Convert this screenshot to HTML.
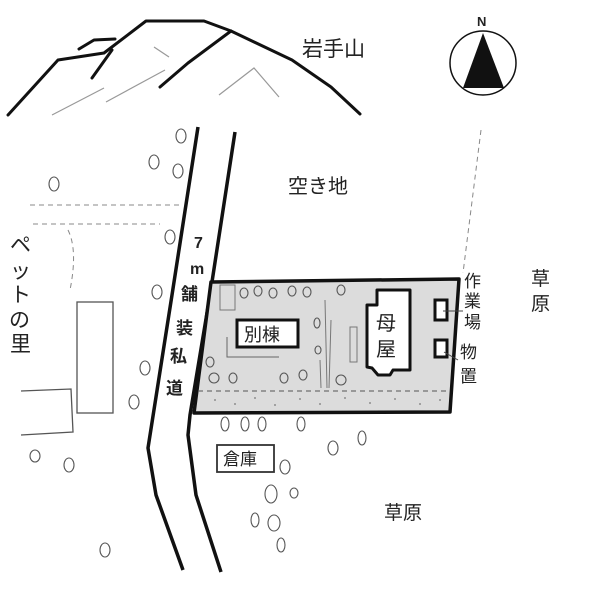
<!DOCTYPE html>
<html><head><meta charset="utf-8"><style>
html,body{margin:0;padding:0;background:#fff}
svg{display:block}
text{font-family:"Liberation Sans","Noto Sans CJK JP",sans-serif;fill:#222}
</style></head><body>
<svg width="600" height="595" viewBox="0 0 600 595" xmlns="http://www.w3.org/2000/svg">
<g fill="none" stroke="#111" stroke-width="3" stroke-linecap="round" stroke-linejoin="round">
<polyline points="8,115 58,60 104,53 146,21 204,21 231,31 292,60 331,87 360,114"/>
<polyline points="92,78 112,50"/>
<polyline points="79,49 94,40 115,39"/>
<polyline points="160,87 188,63 231,31"/>
</g>
<g fill="none" stroke="#999" stroke-width="1.2">
<polyline points="219,95 254,68 279,97"/>
<polyline points="52,115 104,88"/>
<polyline points="106,102 165,70"/>
<polyline points="154,47 169,57"/>
</g>
<text x="302" y="56" font-size="21">岩手山</text>
<ellipse cx="483" cy="63" rx="33" ry="32" fill="#fff" stroke="#111" stroke-width="1.5"/>
<polygon points="483,33 463,88 504,88" fill="#111"/>
<text x="477" y="26" font-size="13" font-weight="bold">N</text>
<g fill="none" stroke="#888" stroke-width="1" stroke-dasharray="5,4">
<line x1="30" y1="205" x2="183" y2="205"/>
<line x1="33" y1="224" x2="160" y2="224"/>
<path d="M68,230 Q78,250 70,290"/>
<line x1="481" y1="130" x2="463" y2="273"/>
</g>
<g fill="none" stroke="#111" stroke-width="3.5" stroke-linejoin="round">
<polyline points="198,127 172,295 148,448 156,495 183,570"/>
<polyline points="235,132 210,295 190,415 188,435 196,495 221,572"/>
</g>
<g font-size="16" font-weight="bold">
<text x="194" y="248">7</text>
<text x="190" y="274">m</text>
</g>
<g font-size="17" font-weight="bold">
<text x="181" y="300">舗</text>
<text x="176" y="334">装</text>
<text x="170" y="362">私</text>
<text x="166" y="394">道</text>
</g>
<polygon points="211,282 459,279 450,412 194,413" fill="#dcdcdc" stroke="#111" stroke-width="3.5" stroke-linejoin="round"/>
<line x1="198" y1="391" x2="449" y2="391" stroke="#555" stroke-width="1" stroke-dasharray="5,4"/>
<g fill="#777">
<circle cx="215" cy="400" r="0.9"/><circle cx="235" cy="404" r="0.9"/><circle cx="255" cy="398" r="0.9"/><circle cx="275" cy="405" r="0.9"/><circle cx="300" cy="399" r="0.9"/><circle cx="320" cy="404" r="0.9"/><circle cx="345" cy="398" r="0.9"/><circle cx="370" cy="403" r="0.9"/><circle cx="395" cy="399" r="0.9"/><circle cx="420" cy="404" r="0.9"/><circle cx="440" cy="400" r="0.9"/>
</g>
<rect x="220" y="285" width="15" height="25" fill="none" stroke="#777" stroke-width="1"/>
<polyline points="227,337 227,357 279,357" fill="none" stroke="#666" stroke-width="1"/>
<rect x="237" y="320" width="61" height="27" fill="#fff" stroke="#111" stroke-width="3"/>
<text x="244" y="341" font-size="18">別棟</text>
<rect x="350" y="327" width="7" height="35" fill="none" stroke="#777" stroke-width="1"/>
<polygon points="377,290 410,290 410,370 393,370 390,375 378,375 372,368 367,367 367,305 377,305" fill="#fff" stroke="#111" stroke-width="3" stroke-linejoin="round"/>
<text x="376" y="330" font-size="20">母</text>
<text x="376" y="356" font-size="20">屋</text>
<rect x="435" y="300" width="12" height="20" fill="#fff" stroke="#111" stroke-width="3"/>
<rect x="435" y="340" width="12" height="17" fill="#fff" stroke="#111" stroke-width="3"/>
<line x1="443" y1="311" x2="463" y2="311" stroke="#444" stroke-width="1"/>
<line x1="444" y1="352" x2="458" y2="360" stroke="#444" stroke-width="1"/>
<g font-size="17">
<text x="464" y="287">作</text><text x="464" y="307">業</text><text x="464" y="328">場</text>
<text x="460" y="358">物</text><text x="460" y="382">置</text>
</g>
<g fill="none" stroke="#555" stroke-width="1.1">
<ellipse cx="244" cy="293" rx="4" ry="5"/><ellipse cx="258" cy="291" rx="4" ry="5"/><ellipse cx="273" cy="293" rx="4" ry="5"/><ellipse cx="292" cy="291" rx="4" ry="5"/><ellipse cx="307" cy="292" rx="4" ry="5"/><ellipse cx="341" cy="290" rx="4" ry="5"/>
<ellipse cx="210" cy="362" rx="4" ry="5"/><ellipse cx="214" cy="378" rx="5" ry="5"/><ellipse cx="233" cy="378" rx="4" ry="5"/><ellipse cx="284" cy="378" rx="4" ry="5"/><ellipse cx="303" cy="375" rx="4" ry="5"/><ellipse cx="317" cy="323" rx="3" ry="5"/><ellipse cx="318" cy="350" rx="3" ry="4"/><ellipse cx="341" cy="380" rx="5" ry="5"/>
</g>
<g stroke="#777" stroke-width="1">
<line x1="325" y1="300" x2="327" y2="388"/><line x1="331" y1="320" x2="329" y2="388"/><line x1="320" y1="360" x2="321" y2="388"/>
</g>
<rect x="217" y="445" width="57" height="27" fill="#fff" stroke="#333" stroke-width="1.8"/>
<text x="223" y="465" font-size="17">倉庫</text>
<rect x="77" y="302" width="36" height="111" fill="#fff" stroke="#555" stroke-width="1.3"/>
<polyline points="21,391 71,389 73,432 21,435" fill="none" stroke="#555" stroke-width="1.3"/>
<g font-size="21">
<text x="10" y="252">ペ</text><text x="10" y="278">ッ</text><text x="10" y="302">ト</text><text x="9" y="327">の</text><text x="10" y="351">里</text>
</g>
<text x="288" y="193" font-size="20">空き地</text>
<g font-size="19">
<text x="531" y="285">草</text><text x="531" y="310">原</text>
<text x="384" y="519">草原</text>
</g>
<g fill="none" stroke="#555" stroke-width="1.1">
<ellipse cx="181" cy="136" rx="5" ry="7"/><ellipse cx="154" cy="162" rx="5" ry="7"/><ellipse cx="178" cy="171" rx="5" ry="7"/><ellipse cx="54" cy="184" rx="5" ry="7"/>
<ellipse cx="170" cy="237" rx="5" ry="7"/><ellipse cx="157" cy="292" rx="5" ry="7"/><ellipse cx="145" cy="368" rx="5" ry="7"/><ellipse cx="134" cy="402" rx="5" ry="7"/>
<ellipse cx="35" cy="456" rx="5" ry="6"/><ellipse cx="69" cy="465" rx="5" ry="7"/><ellipse cx="105" cy="550" rx="5" ry="7"/>
<ellipse cx="225" cy="424" rx="4" ry="7"/><ellipse cx="245" cy="424" rx="4" ry="7"/><ellipse cx="262" cy="424" rx="4" ry="7"/><ellipse cx="301" cy="424" rx="4" ry="7"/>
<ellipse cx="333" cy="448" rx="5" ry="7"/><ellipse cx="362" cy="438" rx="4" ry="7"/>
<ellipse cx="285" cy="467" rx="5" ry="7"/><ellipse cx="271" cy="494" rx="6" ry="9"/><ellipse cx="294" cy="493" rx="4" ry="5"/><ellipse cx="255" cy="520" rx="4" ry="7"/><ellipse cx="274" cy="523" rx="6" ry="8"/><ellipse cx="281" cy="545" rx="4" ry="7"/>
</g>
</svg>
</body></html>
